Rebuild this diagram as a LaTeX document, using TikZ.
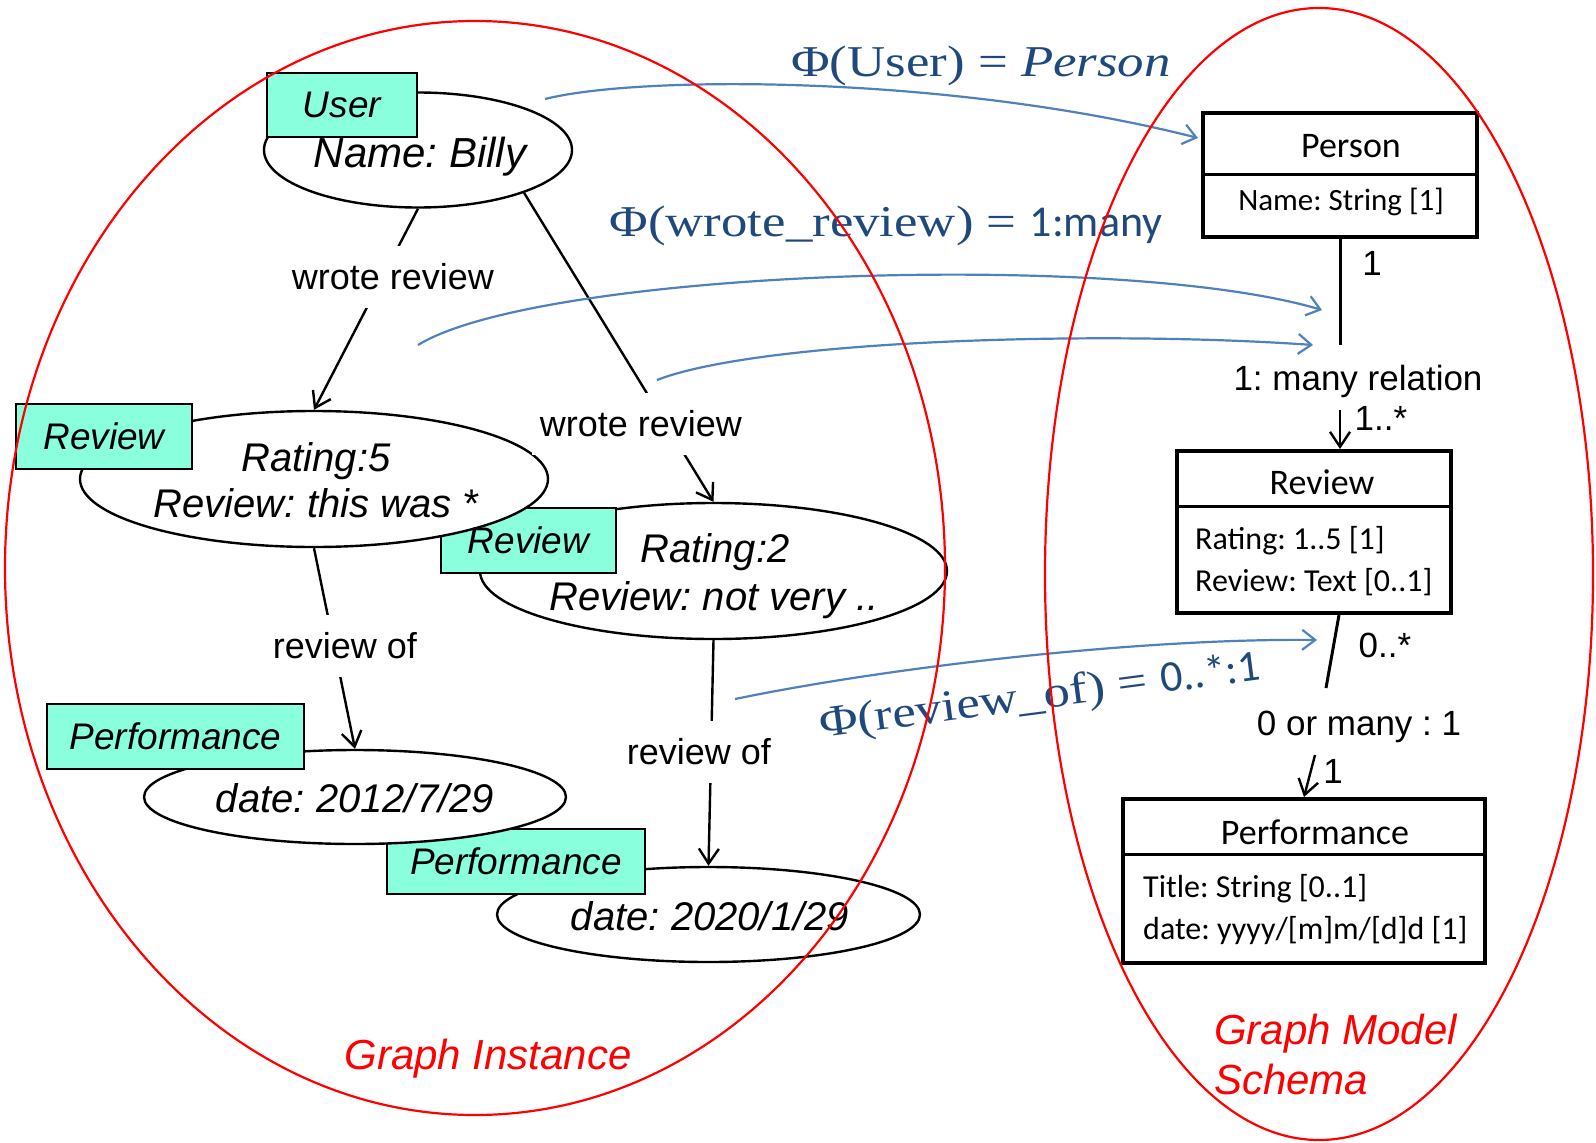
\documentclass[tikz,border=0pt]{standalone}
\usepackage{fontspec}
\setmainfont{Liberation Sans}
\newfontfamily\calfont{Carlito}
\newfontfamily\phifont[FakeStretch=1.2]{Liberation Serif}
\usetikzlibrary{arrows.meta,calc,shapes.geometric}
\frenchspacing

\definecolor{tagcyan}{RGB}{138,255,222}
\definecolor{phiblue}{RGB}{31,73,125}
\definecolor{arrblue}{RGB}{79,129,189}

\newcommand\fs[2]{\fontsize{#1}{#2}\selectfont}

\begin{document}
\begin{tikzpicture}[x=1pt,y=-1pt,
  inst/.style={ellipse, draw=black, line width=2.4pt, fill=white, inner sep=0pt},
  insttext/.style={font=\fs{40}{48}\itshape, inner sep=0pt, anchor=base},
  tagbox/.style={rectangle, draw=black, line width=1.3pt, fill=tagcyan, inner sep=0pt, font=\fs{37}{44}\itshape},
  tagtext/.style={font=\fs{37}{44}\itshape, inner sep=0pt},
  link/.style={line width=2.4pt, draw=black},
  arr/.style={-{Straight Barb[length=15pt,width=20pt]}},
  elabel/.style={fill=white, inner xsep=8pt, inner ysep=18pt, font=\fs{36}{43}},
  umlbox/.style={rectangle, draw=black, line width=4pt, fill=white, inner sep=0pt},
  umltitle/.style={font=\calfont\fs{36}{43}, inner sep=0pt},
  umlattr/.style={font=\calfont\fs{32}{40}, anchor=west, inner sep=0pt},
  slabel/.style={font=\fs{35}{42}, inner sep=0pt},
  phi/.style={font=\phifont\fs{44}{53}, text=phiblue, inner sep=0pt},
  map/.style={draw=arrblue, line width=2.2pt, -{Straight Barb[length=13pt,width=20pt]}},
  region/.style={draw=red, line width=2.2pt},
  regionlabel/.style={text=red, font=\fs{42}{50}\itshape, inner sep=0pt}
]
\useasboundingbox (0,0) rectangle (1596,1143);
\fill[white] (0,0) rectangle (1596,1143);

% ---------- graph instance ----------
\node[inst, minimum width=308, minimum height=115] (user) at (418,150) {};
\node[insttext, font=\fs{42}{50}\itshape] (usertext) at (420,167) {Name: Billy};
\node[tagbox, minimum width=150, minimum height=64] (usertag) at (342,105) {User};

\node[inst, minimum width=467, minimum height=136] (rev2) at (713.5,571) {};
\node[insttext] (rev2l1) at (715,562) {Rating:2};
\node[insttext] (rev2l2) at (714,610) {Review: not very ..};
\node[tagbox, minimum width=175, minimum height=65] (rev2tag) at (528.5,540.5) {};

\node[inst, minimum width=468, minimum height=136] (rev1) at (314,479) {};
\node[insttext] (rev1l1) at (316,471) {Rating:5};
\node[insttext] (rev1l2) at (316,517) {Review: this was *};
\node[tagbox, minimum width=176, minimum height=65] (rev1tag) at (104,436.5) {Review};
\node[tagtext] (rev2tagtext) at (rev2tag.center) {Review};

\node[inst, minimum width=423, minimum height=95] (perf2) at (708.5,914.5) {};
\node[insttext] (perf2text) at (710,930) {date: 2020/1/29};
\node[tagbox, minimum width=258, minimum height=65] (perf2tag) at (516,861.5) {};

\node[inst, minimum width=422, minimum height=94] (perf1) at (355,797) {};
\node[insttext] (perf1text) at (355,812) {date: 2012/7/29};
\node[tagbox, minimum width=257, minimum height=65] (perf1tag) at (175.5,736.5) {Performance};
\node[tagtext] (perf2tagtext) at (perf2tag.center) {Performance};

% instance edges
\draw[link,arr] (user.south) -- (rev1.north);
\draw[link,arr] (user.-22) -- (rev2.north);
\draw[link,arr] (rev1.south) -- (perf1.north);
\draw[link,arr] (rev2.south) -- (perf2.north);

\node[elabel] (wr1) at (393,277) {wrote review};
\node[elabel] (wr2) at (641,424) {wrote review};
\node[elabel] (ro1) at (345,646) {review of};
\node[elabel] (ro2) at (699,752) {review of};

% ---------- schema ----------
\node[umlbox, minimum width=274, minimum height=124] (person) at (1340,175) {};
\draw[line width=3pt] ([yshift=-63pt]person.north west) -- ([yshift=-63pt]person.north east);
\node[umltitle] (persontitle) at (1351,146) {Person};
\node[font=\calfont\fs{31}{40}, inner sep=0pt] (personattr) at (1341,202) {Name: String [1]};

\node[umlbox, minimum width=274, minimum height=162] (review) at (1314,532) {};
\draw[line width=3pt] ([yshift=-57pt]review.north west) -- ([yshift=-57pt]review.north east);
\node[umltitle] (reviewtitle) at (1322,482) {Review};
\node[umlattr] (reviewattr1) at (1195,541) {Rating: 1..5 [1]};
\node[umlattr] (reviewattr2) at (1195,582) {Review: Text [0..1]};

\node[umlbox, minimum width=362, minimum height=164] (perfbox) at (1304,881) {};
\draw[line width=3pt] ([yshift=-57pt]perfbox.north west) -- ([yshift=-57pt]perfbox.north east);
\node[umltitle] (perftitle) at (1315,832) {Performance};
\node[umlattr] (perfattr1) at (1143,889) {Title: String [0..1]};
\node[umlattr] (perfattr2) at (1143,931) {date: yyyy/[m]m/[d]d [1]};

% schema relations
\coordinate (p1end) at (1340,345);
\draw[line width=3pt] (person.south) -- (p1end);
\node[slabel] (one1) at (1372,263) {1};
\node[slabel] (rel1) at (1358,381) {1: many relation};
\coordinate (a1start) at (1340,410);
\draw[link,arr] (a1start) -- (a1start |- review.north);
\node[slabel] (many1) at (1381,418) {1..*};

\coordinate (r2start) at ([xshift=25pt]review.south);
\coordinate (r2end) at (1326,688);
\draw[line width=3pt] (r2start) -- (r2end);
\node[slabel] (many2) at (1385,645) {0..*};
\node[slabel] (rel2) at (1359,727) {0 or many : 1};
\coordinate (a2start) at (1315,755);
\draw[link,arr] (a2start) -- (perfbox.north);
\node[slabel] (one2) at (1333,771) {1};

% ---------- mapping arrows ----------
\coordinate (m1s) at (545,99);
\draw[map] (m1s) .. controls (640,75) and (950,75) .. ([xshift=-3pt,yshift=37pt]person.west);
\coordinate (m2s) at (418,345);
\coordinate (m2e) at (1322,310);
\draw[map] (m2s) .. controls (540,270) and (1120,250) .. (m2e);
\coordinate (m3s) at (657,380);
\coordinate (m3e) at (1313,345);
\draw[map] (m3s) .. controls (760,340) and (1100,330) .. (m3e);
\coordinate (m4s) at (735,699);
\coordinate (m4e) at (1317,640);
\draw[map] (m4s) .. controls (900,665) and (1150,638) .. (m4e);

\node[phi] (phi1) at (981,66) {Φ(User)\hspace{0.3em}=\hspace{0.3em}\textit{Person}};
\node[phi] (phi2) at (886,226) {Φ(wrote\_review)\hspace{0.3em}=\hspace{0.3em}{\calfont 1:many}};
\node[phi, rotate=7.5] (phi3) at (1040,698) {Φ(review\_of)\hspace{0.3em}=\hspace{0.3em}{\calfont 0..*:1}};

% ---------- regions ----------
\draw[region] (475,568) ellipse [x radius=470pt, y radius=547pt];
\draw[region] (1319,574) ellipse [x radius=274pt, y radius=566pt];
\node[regionlabel] (gi) at (488,1059) {Graph Instance};
\node[regionlabel, align=left, anchor=north west] (gms) at (1214,1014) {Graph Model\\Schema};
\end{tikzpicture}
\end{document}
